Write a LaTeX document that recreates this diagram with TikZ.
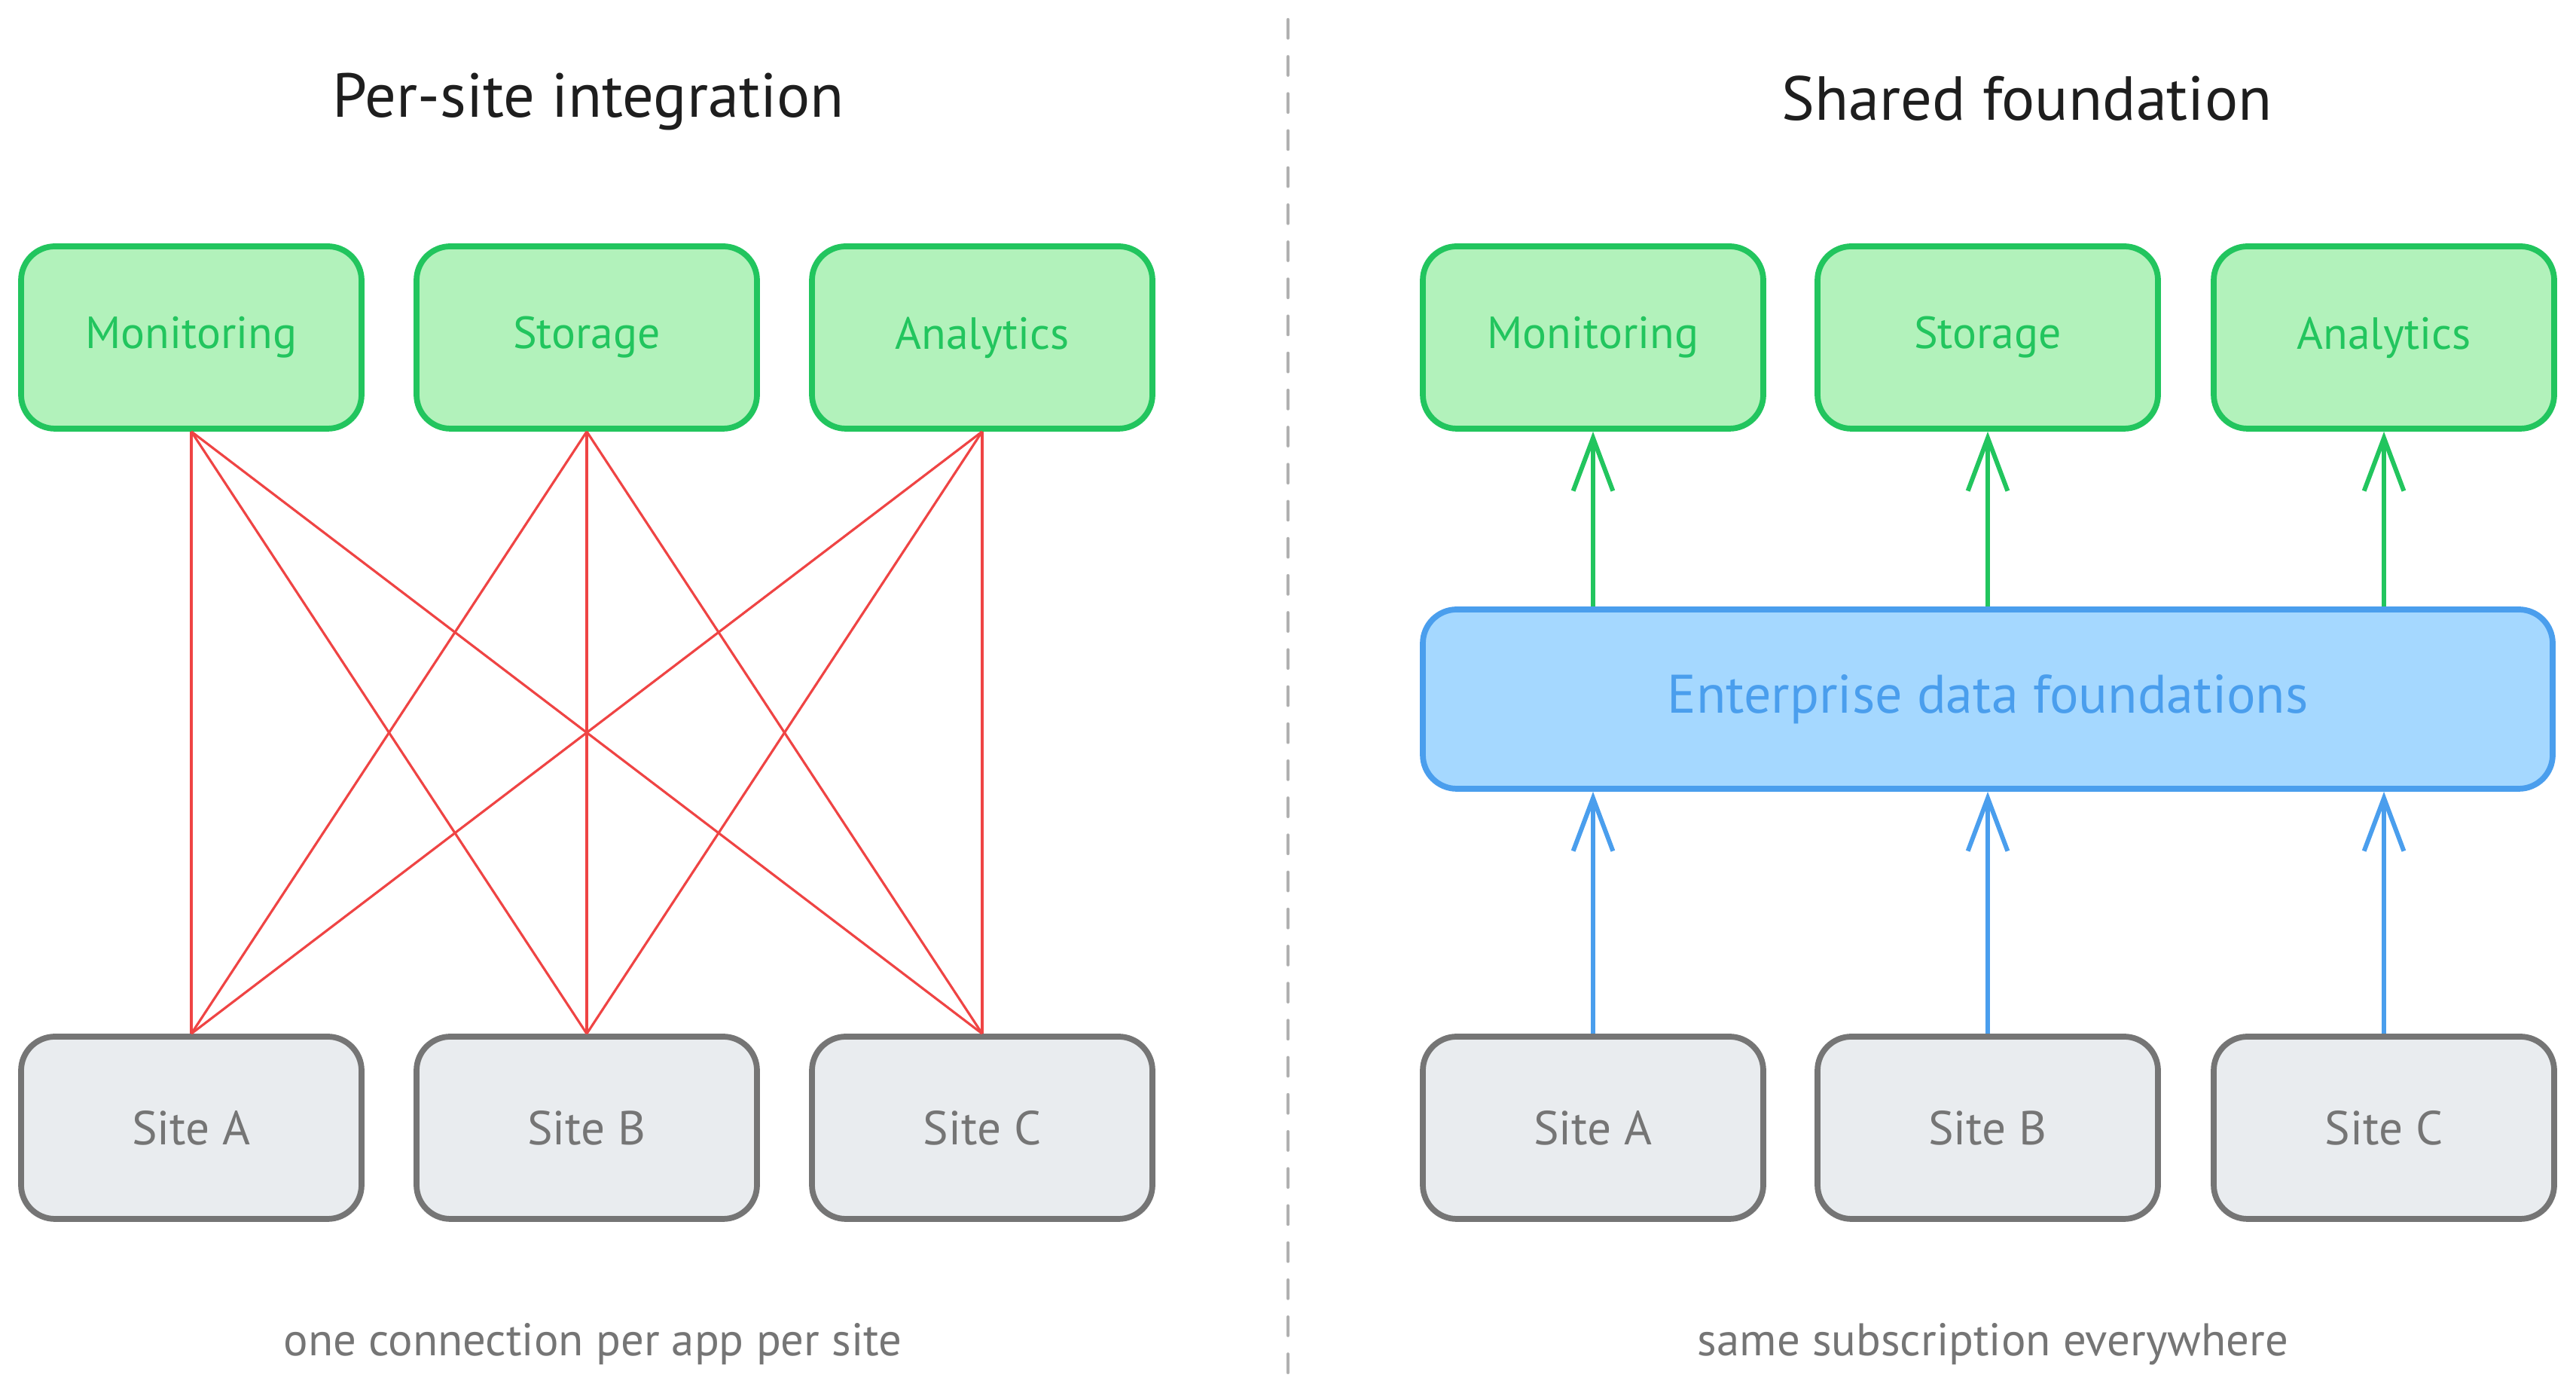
\documentclass[tikz,border=0pt]{standalone}
\usepackage{fontspec}
\setmainfont{PT Sans}
\usetikzlibrary{arrows.meta}
\definecolor{appline}{HTML}{22C55E}
\definecolor{appfill}{HTML}{B2F2BB}
\definecolor{fndline}{HTML}{4A9EED}
\definecolor{fndfill}{HTML}{A5D8FF}
\definecolor{siteline}{HTML}{757575}
\definecolor{sitefill}{HTML}{E9ECEF}
\definecolor{linkred}{HTML}{EF4444}
\definecolor{titleink}{HTML}{1E1E1E}
\definecolor{sepgray}{HTML}{B0B0B0}
\begin{document}
\begin{tikzpicture}[
    box/.style={rectangle,rounded corners=0.45cm,line width=2.2pt,
      minimum width=4.52cm,minimum height=2.42cm,font=\fontsize{17}{20}\selectfont},
    appbox/.style={box,draw=appline,fill=appfill,text=appline},
    sitebox/.style={box,draw=siteline,fill=sitefill,text=siteline,font=\fontsize{18}{21}\selectfont},
    fndbox/.style={box,draw=fndline,fill=fndfill,text=fndline,
      minimum width=15cm,minimum height=2.38cm,font=\fontsize{20.5}{24}\selectfont},
    heading/.style={text=titleink,font=\fontsize{23.5}{27}\selectfont},
    caption/.style={text=siteline,font=\fontsize{17.3}{20}\selectfont},
    link/.style={linkred,line width=0.9pt},
    uparrow/.style={line width=1.7pt,-{Straight Barb[length=20pt,width=15pt,line width=1.7pt]}}
  ]
  \useasboundingbox[fill=white] (0,0) rectangle (34.2,18.57);

  % divider
  \draw[sepgray,line width=1.2pt,line cap=round,dash pattern=on 7pt off 7pt] (17.10,18.31) -- (17.10,0.29);

  % left: per-site integration
  \node[heading] (ltitle) at (7.81,17.22) {Per-site integration};
  \foreach \n/\x/\t in {lmon/2.54/Monitoring,lsto/7.79/Storage,lana/13.04/Analytics}
    \node[appbox] (\n) at (\x,14.09) {\t};
  \foreach \n/\x/\t in {lsa/2.54/Site A,lsb/7.79/Site B,lsc/13.04/Site C}
    \node[sitebox] (\n) at (\x,3.60) {\t};
  \foreach \a in {lmon,lsto,lana}
    \foreach \s in {lsa,lsb,lsc}
      \draw[link] (\a.south) -- (\s.north);
  \node[caption] (lnote) at (7.87,0.73) {one connection per app per site};

  % right: shared foundation
  \node[heading] (rtitle) at (26.91,17.26) {Shared foundation};
  \foreach \n/\x/\t in {rmon/21.15/Monitoring,rsto/26.39/Storage,rana/31.65/Analytics}
    \node[appbox] (\n) at (\x,14.09) {\t};
  \node[fndbox] (found) at (26.39,9.29) {Enterprise data foundations};
  \foreach \n/\x/\t in {rsa/21.15/Site A,rsb/26.39/Site B,rsc/31.65/Site C}
    \node[sitebox] (\n) at (\x,3.60) {\t};
  \foreach \a in {rmon,rsto,rana}
    \draw[uparrow,appline] (\a.south |- found.north) -- (\a.south);
  \foreach \s in {rsa,rsb,rsc}
    \draw[uparrow,fndline] (\s.north) -- (\s.north |- found.south);
  \node[caption] (rnote) at (26.46,0.73) {same subscription everywhere};
\end{tikzpicture}
\end{document}
